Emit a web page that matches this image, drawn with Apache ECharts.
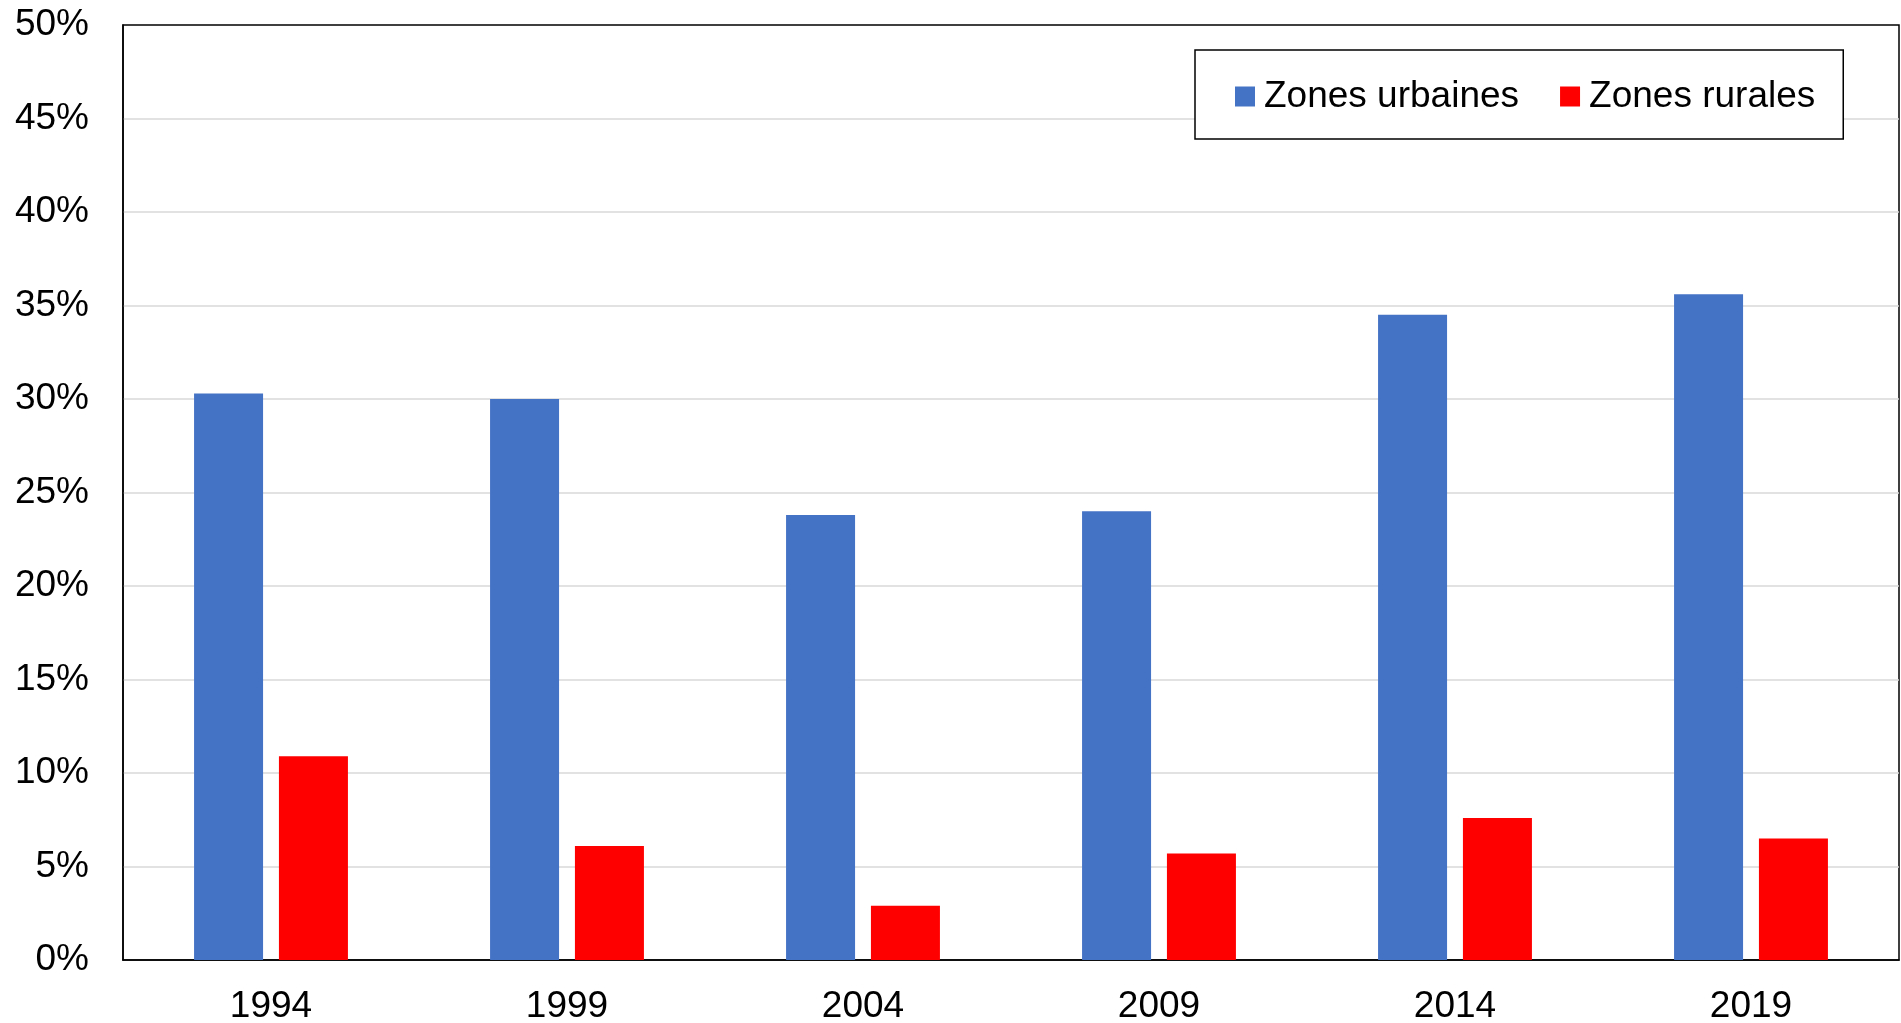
<!DOCTYPE html>
<html>
<head>
<meta charset="utf-8">
<script src="https://cdn.jsdelivr.net/npm/echarts@6/dist/echarts.min.js"></script>
<style>
html,body{margin:0;padding:0;background:#fff;}
#chart{width:1901px;height:1023px;}
</style>
</head>
<body>
<div id="chart"></div>
<script>
const categories = ['1994', '1999', '2004', '2009', '2014', '2019'];
const urbanValues = [30.3, 30.0, 23.8, 24.0, 34.5, 35.6];
const ruralValues = [10.9, 6.1, 2.9, 5.7, 7.6, 6.5];
const seriesNames = ['Zones urbaines', 'Zones rurales'];

const font = '"Liberation Sans", Arial, sans-serif';
const chart = echarts.init(document.getElementById('chart'));
chart.setOption({
  animation: false,
  backgroundColor: '#ffffff',
  grid: {
    left: 123, right: 2, top: 25, bottom: 63,
    show: true, borderColor: '#000000', borderWidth: 1.5,
    containLabel: false,
    outerBoundsMode: 'none'
  },
  legend: {
    left: 1195, top: 50,
    data: seriesNames,
    orient: 'horizontal',
    icon: 'rect',
    itemWidth: 20, itemHeight: 20, itemGap: 41,
    padding: [28, 28, 24, 40],
    borderColor: '#000000', borderWidth: 1.5,
    backgroundColor: '#ffffff',
    textStyle: { fontFamily: font, fontSize: 37, color: '#000000', lineHeight: 37, padding: [0, 0, 0, 4] }
  },
  xAxis: {
    type: 'category',
    data: categories,
    axisLine: { show: true, lineStyle: { color: '#000000', width: 1.5 } },
    axisTick: { show: false },
    axisLabel: { fontFamily: font, fontSize: 37, color: '#000000', margin: 28 },
    splitLine: { show: false }
  },
  yAxis: {
    type: 'value',
    min: 0, max: 50, interval: 5,
    axisLine: { show: true, lineStyle: { color: '#000000', width: 1.5 } },
    axisTick: { show: false },
    axisLabel: { fontFamily: font, fontSize: 37, color: '#000000', margin: 34, formatter: '{value}%',
      padding: [4, 0, 0, 0] },
    splitLine: { show: true, showMaxLine: false, showMinLine: false, lineStyle: { color: '#d9d9d9', width: 1.5 } }
  },
  series: [
    { name: seriesNames[0], type: 'bar', data: urbanValues, barWidth: 69, barGap: '23%',
      itemStyle: { color: '#4472C4' } },
    { name: seriesNames[1], type: 'bar', data: ruralValues, barWidth: 69, barGap: '23%',
      itemStyle: { color: '#FF0000' } }
  ]
});
</script>
</body>
</html>
